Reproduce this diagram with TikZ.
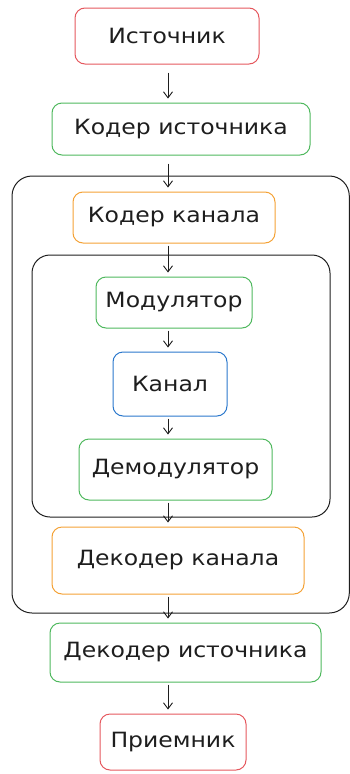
\documentclass[tikz,border=0pt]{standalone}
\usepackage{fontspec}
\setmainfont{DejaVu Sans}[FakeStretch=1.12]
\usetikzlibrary{arrows.meta}
\definecolor{ink}{HTML}{1E1E1E}
\definecolor{boxred}{HTML}{E5585E}
\definecolor{boxgreen}{HTML}{4FB85E}
\definecolor{boxorange}{HTML}{F4A236}
\definecolor{boxblue}{HTML}{2B78CC}

\begin{document}
\begin{tikzpicture}[x=1pt, y=-1pt, >={Straight Barb[length=6pt,width=9pt]},
                every node/.style={
                        rectangle,
                        rounded corners=10pt,
                        line width=1pt,
                        text centered,
                        inner sep=0pt,
                        text=ink,
                        font=\fontsize{21}{25}\selectfont},
                redbox/.style={draw=boxred},
                greenbox/.style={draw=boxgreen},
                orangebox/.style={draw=boxorange},
                bluebox/.style={draw=boxblue},
                frame/.style={draw=ink, line width=1pt, rounded corners=20pt},
                arr/.style={->, draw=ink, line width=0.9pt, shorten <=8pt, shorten >=4pt}]

                \useasboundingbox (0,0) rectangle (350,774);

                % frames
                \draw[frame] (12,176) rectangle (349.3,613);
                \draw[frame, rounded corners=18pt] (32,255) rectangle (330,517);

                \node[redbox, minimum width=184pt, minimum height=56pt] (src) at (167,36) {Источник};

                \node[greenbox, minimum width=258pt, minimum height=52pt] (srcenc) at (181,129) {Кодер источника};

                \node[orangebox, minimum width=202pt, minimum height=51pt] (chenc) at (174,217.5) {Кодер канала};

                \node[greenbox, minimum width=156pt, minimum height=51pt] (mod) at (174,302.5) {Модулятор};

                \node[bluebox, minimum width=114pt, minimum height=64pt] (chan) at (170,384) {Канал};

                \node[greenbox, minimum width=193pt, minimum height=61pt] (demod) at (175.5,469.5) {Демодулятор};

                \node[orangebox, minimum width=252pt, minimum height=67pt] (chdec) at (178,560.5) {Декодер канала};

                \node[greenbox, minimum width=271pt, minimum height=59pt] (srcdec) at (185.5,652.5) {Декодер источника};

                \node[redbox, minimum width=146pt, minimum height=56pt] (recv) at (173,742) {Приемник};

                \coordinate (ax) at (168,0);

                \draw[arr] (src.south -| ax) -- (srcenc.north -| ax);
                \draw[arr] (srcenc.south -| ax) -- (chenc.north -| ax);
                \draw[arr, shorten <=2pt] (chenc.south -| ax) -- (mod.north -| ax);
                \draw[arr, shorten <=2pt] (mod.south -| ax) -- (chan.north -| ax);
                \draw[arr, shorten <=2pt] (chan.south -| ax) -- (demod.north -| ax);
                \draw[arr, shorten <=2pt] (demod.south -| ax) -- (chdec.north -| ax);
                \draw[arr, shorten <=2pt] (chdec.south -| ax) -- (srcdec.north -| ax);
                \draw[arr, shorten <=2pt] (srcdec.south -| ax) -- (recv.north -| ax);
            \end{tikzpicture}
\end{document}
